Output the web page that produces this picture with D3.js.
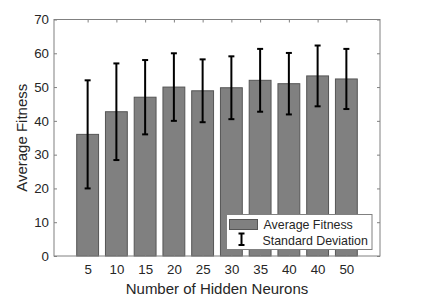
<!DOCTYPE html>
<html>
<head>
<meta charset="utf-8">
<script src="https://cdn.jsdelivr.net/npm/d3@7"></script>
<style>
  body { margin: 0; background: #fff; }
  text { font-family: "Liberation Sans", Arial, sans-serif; fill: #262626; }
</style>
</head>
<body>
<div id="chart"></div>
<script>
// hidden neuron labels as printed on the axis (40 appears twice in the source)
const categories = ["5", "10", "15", "20", "25", "30", "35", "40", "40", "50"];
const avgFitness = [36.0, 42.7, 47.0, 50.0, 48.9, 49.8, 52.0, 51.0, 53.3, 52.4];
const stdDev = [16.0, 14.3, 11.0, 10.0, 9.3, 9.3, 9.3, 9.1, 9.0, 8.9];
const yTicks = [0, 10, 20, 30, 40, 50, 60, 70];

const width = 421, height = 296;
const margin = { top: 19.5, right: 41, bottom: 40, left: 54 };
const axisColor = "#808080";

const svg = d3.select("#chart").append("svg")
    .attr("width", width)
    .attr("height", height);

const x = d3.scaleLinear()
    .domain([-0.17, categories.length + 1.17])
    .range([margin.left, width - margin.right]);
const y = d3.scaleLinear()
    .domain([0, 70])
    .range([height - margin.bottom, margin.top]);

const barW = (x(1) - x(0)) * 0.76;
const data = categories.map((c, i) => ({ c, i: i + 1, v: avgFitness[i], s: stdDev[i] }));

// bars
svg.append("g")
    .selectAll("rect")
    .data(data)
    .join("rect")
    .attr("x", d => x(d.i) - barW / 2)
    .attr("y", d => y(d.v))
    .attr("width", barW)
    .attr("height", d => y(0) - y(d.v))
    .attr("fill", "#808080")
    .attr("stroke", "#555")
    .attr("stroke-width", 1);

// error bars
const err = svg.append("g").attr("stroke", "#000").attr("stroke-width", 2);
data.forEach(d => {
    err.append("line")
        .attr("x1", x(d.i)).attr("x2", x(d.i))
        .attr("y1", y(d.v + d.s)).attr("y2", y(d.v - d.s));
    [d.v + d.s, d.v - d.s].forEach(v => {
        err.append("line")
            .attr("x1", x(d.i) - 3).attr("x2", x(d.i) + 3)
            .attr("y1", y(v)).attr("y2", y(v));
    });
});

// axes box (MATLAB style, ticks inward on all sides)
const x0 = x.range()[0], x1 = x.range()[1];
const yb = y(0), yt = y(70);

const xAxis = svg.append("g")
    .attr("transform", `translate(0,${yb})`)
    .call(d3.axisBottom(x).tickValues(data.map(d => d.i))
        .tickFormat((d, i) => categories[i]).tickSize(-3).tickPadding(9));
const xTop = svg.append("g")
    .attr("transform", `translate(0,${yt})`)
    .call(d3.axisTop(x).tickValues(data.map(d => d.i))
        .tickFormat("").tickSize(-3));
const yAxis = svg.append("g")
    .attr("transform", `translate(${x0},0)`)
    .call(d3.axisLeft(y).tickValues(yTicks).tickSize(-3).tickPadding(5));
const yRight = svg.append("g")
    .attr("transform", `translate(${x1},0)`)
    .call(d3.axisRight(y).tickValues(yTicks).tickFormat("").tickSize(-3));

[xAxis, xTop, yAxis, yRight].forEach(g => {
    g.select(".domain").remove();
    g.selectAll(".tick line").attr("stroke", axisColor);
    g.selectAll(".tick text")
        .style("font-family", "'Liberation Sans', Arial, sans-serif")
        .style("font-size", "13.3px")
        .attr("fill", "#262626");
});

svg.append("rect")
    .attr("x", x0).attr("y", yt)
    .attr("width", x1 - x0).attr("height", yb - yt)
    .attr("fill", "none")
    .attr("stroke", axisColor)
    .attr("stroke-width", 1);

// axis titles
svg.append("text")
    .attr("x", (x0 + x1) / 2)
    .attr("y", 293.5)
    .attr("text-anchor", "middle")
    .style("font-size", "15px")
    .text("Number of Hidden Neurons");

svg.append("text")
    .attr("transform", `translate(26.5,${(yb + yt) / 2}) rotate(-90)`)
    .attr("text-anchor", "middle")
    .style("font-size", "15px")
    .text("Average Fitness");

// legend
const legend = svg.append("g").attr("transform", "translate(226.5,214.5)");
legend.append("rect")
    .attr("width", 145.5).attr("height", 35)
    .attr("fill", "#fff")
    .attr("stroke", axisColor);
legend.append("rect")
    .attr("x", 3).attr("y", 5)
    .attr("width", 28).attr("height", 10)
    .attr("fill", "#808080")
    .attr("stroke", "#555");
legend.append("text")
    .attr("x", 37).attr("y", 14.3)
    .style("font-size", "12.4px")
    .text("Average Fitness");
const ib = legend.append("g").attr("stroke", "#000").attr("stroke-width", 2);
ib.append("line").attr("x1", 15).attr("x2", 15).attr("y1", 19).attr("y2", 30.5);
ib.append("line").attr("x1", 12).attr("x2", 18).attr("y1", 19).attr("y2", 19);
ib.append("line").attr("x1", 12).attr("x2", 18).attr("y1", 30.5).attr("y2", 30.5);
legend.append("text")
    .attr("x", 36).attr("y", 30.8)
    .style("font-size", "12.4px")
    .text("Standard Deviation");
</script>
</body>
</html>
